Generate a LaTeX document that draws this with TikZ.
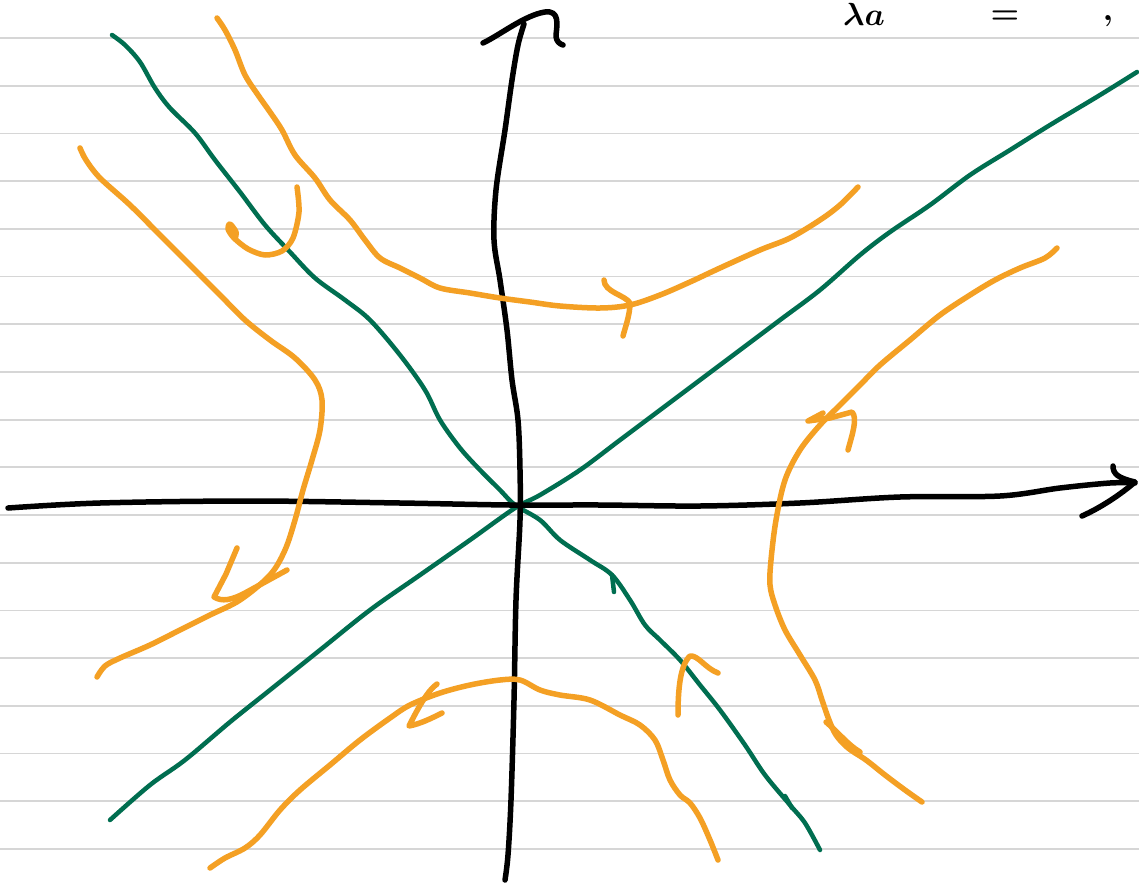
\documentclass[tikz,border=0pt]{standalone}
\usepackage{graphicx}
\usepackage{tikz}
\definecolor{ruled}{RGB}{214,214,214}
\definecolor{pen orange}{RGB}{244,160,36}
\definecolor{pen green}{RGB}{0,110,80}
\tikzset{
  ruleline/.style={draw=ruled, line width=1.8pt},
  axisline/.style={draw=black, line width=5.5pt, line cap=round, line join=round},
  eigline/.style={draw=pen green, line width=4.5pt, line cap=round, line join=round},
  orbit/.style={draw=pen orange, line width=5.5pt, line cap=round, line join=round},
  headtext/.style={inner sep=1pt},
}
\begin{document}
\begin{tikzpicture}[x=1pt,y=-1pt]
\useasboundingbox (0,0) rectangle (1139,883);
\fill[white] (0,0) rectangle (1139,883);
\begin{scope}
\clip (0,0) rectangle (1139,883);
% ruled paper
\foreach \k in {0,...,17}{
  \draw[ruleline] (0,{38+47.7*\k}) -- (1139,{38+47.7*\k});
}
% heading
\node[headtext, anchor=north west] (head) at (842,2) {\scalebox{3.2}{\boldmath$\lambda a$}};
\node[headtext, anchor=north] (eq) at (1005,10) {\scalebox{3.2}{\boldmath$=$}};
\node[headtext, anchor=north] (comma) at (1108,14) {\scalebox{3.2}{\boldmath$,$}};

% green eigen-directions
\draw[eigline] plot[smooth, tension=0.55] coordinates {(112,35) (125,45) (140,62) (155,88) (170,108) (195,133) (215,160) (240,192) (265,225) (290,252) (315,278) (345,300) (370,320) (400,355) (425,390) (440,420) (460,448) (480,470) (500,490) (515,505) (540,520) (560,540) (590,560) (612,575) (630,600) (645,625) (660,640) (680,660) (700,685) (720,710) (745,745) (765,775) (790,805) (805,823) (820,850)};
\draw[eigline] (612,575) -- (614,592);
\draw[eigline] (785,796) -- (792,808);
\draw[eigline] plot[smooth, tension=0.55] coordinates {(110,820) (150,785) (185,760) (230,722) (270,690) (320,650) (370,610) (420,575) (470,540) (515,508) (540,495) (580,470) (620,440) (660,410) (700,380) (740,350) (780,320) (820,290) (860,255) (890,232) (930,205) (970,175) (1010,150) (1050,125) (1100,95) (1137,72)};

% black axes
\draw[axisline] plot[smooth, tension=0.55] coordinates {(8,508) (100,503) (250,501) (400,503) (510,505) (600,505) (700,506) (800,503) (900,497) (1000,496) (1060,488) (1110,483) (1135,483)};
\draw[axisline] (1113,466) .. controls (1113,474) and (1118,478) .. (1135,482) .. controls (1120,495) and (1100,508) .. (1082,516);
\draw[axisline] plot[smooth, tension=0.55] coordinates {(505,880) (508,855) (511,800) (514,700) (516,600) (520,520) (520,470) (518,420) (512,380) (507,330) (500,280) (494,240) (496,190) (505,130) (512,80) (518,45) (524,24)};
\draw[axisline] (483,43) .. controls (500,35) and (525,15) .. (545,12) .. controls (560,10) and (557,25) .. (556,35) .. controls (556,42) and (560,44) .. (563,45);

% orange trajectories
\draw[orbit] plot[smooth, tension=0.55] coordinates {(217,18) (225,30) (235,50) (245,75) (258,95) (270,112) (282,130) (295,155) (315,178) (330,200) (350,220) (365,240) (380,258) (400,268) (420,278) (440,288) (470,293) (500,298) (530,302) (560,306) (600,308) (630,305) (660,295) (690,282) (720,268) (760,250) (790,238) (820,220) (840,205) (858,187)};
\draw[orbit] (604,280) .. controls (604,292) and (625,295) .. (630,303) .. controls (630,315) and (625,328) .. (623,336);

\draw[orbit] plot[smooth, tension=0.55] coordinates {(80,148) (86,160) (100,178) (130,205) (160,235) (190,265) (220,295) (245,320) (270,340) (295,358) (315,380) (322,400) (320,430) (312,460) (303,490) (295,520) (285,550) (270,575) (240,600) (210,615) (180,630) (150,645) (120,658) (105,666) (97,677)};
\draw[orbit] (237,548) -- (226,574) -- (214,597) .. controls (222,602) and (232,600) .. (245,593) -- (287,570);

\draw[orbit] plot[smooth, tension=0.5] coordinates {(297,187) (299,212) (293,238) (282,251) (265,255) (248,249) (234,238) (228,229) (230,224) (236,232) (235,239)};

\draw[orbit] plot[smooth, tension=0.55] coordinates {(1057,248) (1045,258) (1020,268) (995,280) (970,295) (940,315) (910,340) (880,365) (860,385) (840,405) (820,425) (800,450) (785,480) (776,520) (771,560) (770,585) (775,605) (785,630) (800,655) (815,680) (822,700) (829,720) (836,735) (848,748) (866,760) (885,775) (905,790) (922,802)};
\draw[orbit] (826,722) .. controls (838,732) and (848,745) .. (860,752) -- (852,750);
\draw[orbit] (823,413) -- (808,421) -- (830,418) -- (852,412) .. controls (858,418) and (852,435) .. (848,450);

\draw[orbit] plot[smooth, tension=0.55] coordinates {(210,868) (225,858) (245,848) (260,835) (280,810) (300,790) (330,765) (360,740) (390,718) (410,705) (440,693) (470,685) (500,680) (520,680) (540,690) (560,695) (590,700) (620,715) (640,725) (655,740) (663,760) (670,780) (680,795) (690,803) (700,818) (710,840) (718,860)};
\draw[orbit] (437,684) .. controls (428,690) and (418,708) .. (409,726) .. controls (420,724) and (432,718) .. (442,713);

\draw[orbit] (678,715) .. controls (678,690) and (680,665) .. (690,656) .. controls (698,655) and (705,668) .. (718,673);
\end{scope}
\end{tikzpicture}
\end{document}
